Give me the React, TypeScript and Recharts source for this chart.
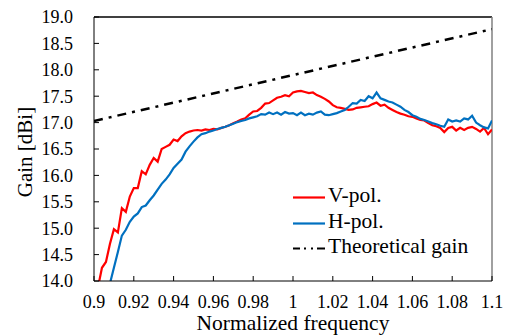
import React from 'react';
import { LineChart, Line, XAxis, YAxis, ReferenceLine } from 'recharts';

// frequency grid, step 0.002
const freq: number[] = Array.from({ length: 101 }, (_, i) => Math.round((0.9 + i * 0.002) * 1000) / 1000);

const vPol = [
  13.55, 13.88, 14.25, 14.36, 14.7, 14.98, 14.92, 15.38, 15.31, 15.6,
  15.76, 15.76, 16.08, 16.02, 16.2, 16.33, 16.26, 16.5, 16.54, 16.58,
  16.68, 16.65, 16.74, 16.8, 16.83, 16.85, 16.86, 16.85, 16.87, 16.86,
  16.88, 16.87, 16.9, 16.92, 16.95, 16.99, 17.02, 17.06, 17.08, 17.15,
  17.21, 17.22, 17.28, 17.36, 17.37, 17.42, 17.47, 17.49, 17.52, 17.5,
  17.57, 17.59, 17.6, 17.58, 17.56, 17.57, 17.52, 17.49, 17.45, 17.4,
  17.33, 17.29, 17.28, 17.26, 17.24, 17.25, 17.28, 17.29, 17.3, 17.31,
  17.35, 17.38, 17.32, 17.34, 17.28, 17.24, 17.2, 17.17, 17.15, 17.12,
  17.11, 17.08, 17.05, 17.04, 16.99, 16.95, 16.93, 16.9, 16.82, 16.9,
  16.92, 16.85, 16.9, 16.86, 16.9, 16.92, 16.88, 16.83, 16.9, 16.78,
  16.87,
];

const hPol = [
  12.9, 13.15, 13.4, 13.65, 13.95, 14.25, 14.55, 14.86, 14.97, 15.12,
  15.22, 15.28, 15.4, 15.43, 15.53, 15.62, 15.73, 15.84, 15.92, 16.02,
  16.14, 16.22, 16.3, 16.45, 16.55, 16.64, 16.72, 16.78, 16.8, 16.83,
  16.85, 16.88, 16.9, 16.92, 16.95, 16.98, 17.01, 17.03, 17.05, 17.08,
  17.1, 17.12, 17.16, 17.15, 17.19, 17.16, 17.19, 17.15, 17.2, 17.17,
  17.18, 17.14, 17.19, 17.14, 17.17, 17.15, 17.19, 17.21, 17.15, 17.14,
  17.16, 17.18, 17.21, 17.24, 17.3, 17.37, 17.36, 17.43, 17.41, 17.5,
  17.46, 17.57, 17.46, 17.43, 17.4, 17.38, 17.34, 17.3, 17.24, 17.2,
  17.14, 17.11, 17.07, 17.05, 17.02, 16.99, 16.97, 16.94, 16.92, 17.06,
  17.02, 17.04, 17.02, 17.08, 17.06, 17.13, 17.0, 16.95, 16.91, 16.89,
  17.04,
];

const theoryFreq = [0.9, 1.1];
const theoryGain = [17.03, 18.77];

const xTicks = [0.9, 0.92, 0.94, 0.96, 0.98, 1, 1.02, 1.04, 1.06, 1.08, 1.1];
const yTicks = [14, 14.5, 15, 15.5, 16, 16.5, 17, 17.5, 18, 18.5, 19];

const data = freq.map((f, i) => ({ f, v: vPol[i], h: hPol[i] }));
const theoryData = theoryFreq.map((f, i) => ({ f, t: theoryGain[i] }));

const FONT = "'Liberation Serif', serif";
const DASH = '9 6 3 6';

const legendItems = [
  { name: 'V-pol.', color: '#ff0000', dash: undefined },
  { name: 'H-pol.', color: '#0070c0', dash: undefined },
  { name: 'Theoretical gain', color: '#000000', dash: '7 4 2 5 2 4 8' },
];

function LegendBox() {
  return (
    <div style={{ position: 'absolute', left: 292, top: 183, fontFamily: FONT, fontSize: 21.5, color: '#000' }}>
      {legendItems.map(it => (
        <div key={it.name} style={{ position: 'relative', height: 25.5, lineHeight: '25.5px', whiteSpace: 'nowrap' }}>
          <svg width={34} height={26} style={{ position: 'absolute', left: 0, top: 0 }}>
            <line x1={1} x2={33} y1={14.5} y2={14.5} stroke={it.color} strokeWidth={2.2} strokeDasharray={it.dash} />
          </svg>
          <span style={{ position: 'absolute', left: 36, top: 0 }}>{it.name}</span>
        </div>
      ))}
    </div>
  );
}

export default function App() {
  const tickStyle = { fill: '#000', fontSize: 18, fontFamily: FONT };
  return (
    <div style={{ position: 'absolute', left: 0, top: 0, width: 508, height: 335, background: '#fff', fontFamily: FONT }}>
      <LineChart width={508} height={335} margin={{ top: 17, right: 16, left: 34, bottom: 24 }} style={{ fontFamily: FONT }}>
        <XAxis
          dataKey="f"
          type="number"
          domain={[0.9, 1.1]}
          ticks={xTicks}
          allowDataOverflow
          tickFormatter={(v: number) => String(Number(v.toFixed(2)))}
          tick={tickStyle}
          tickSize={-5}
          tickMargin={19}
          height={30}
          stroke="#000"
          interval={0}
        />
        <YAxis
          type="number"
          domain={[14, 19]}
          ticks={yTicks}
          allowDataOverflow
          tickFormatter={(v: number) => v.toFixed(1)}
          tick={tickStyle}
          tickSize={-5}
          tickMargin={26}
          width={60}
          stroke="#000"
          interval={0}
        />
        <ReferenceLine y={19} stroke="#000" strokeWidth={1.5} />
        <ReferenceLine x={1.1} stroke="#808080" strokeWidth={1.5} />
        <Line data={data} dataKey="v" type="linear" stroke="#ff0000" strokeWidth={2.2} dot={false} isAnimationActive={false} />
        <Line data={data} dataKey="h" type="linear" stroke="#0070c0" strokeWidth={2.2} dot={false} isAnimationActive={false} />
        <Line
          data={theoryData}
          dataKey="t"
          type="linear"
          stroke="#000"
          strokeWidth={2.5}
          strokeDasharray={DASH}
          dot={false}
          isAnimationActive={false}
        />
      </LineChart>
      <LegendBox />
      <div
        style={{
          position: 'absolute', left: 25, top: 152, transform: 'translate(-50%, -50%) rotate(-90deg)',
          fontSize: 21, whiteSpace: 'nowrap', color: '#000', fontFamily: FONT,
        }}
      >
        Gain [dBi]
      </div>
      <div
        style={{
          position: 'absolute', left: 293, top: 323, transform: 'translate(-50%, -50%)',
          fontSize: 21.5, whiteSpace: 'nowrap', color: '#000', fontFamily: FONT,
        }}
      >
        Normalized frequency
      </div>
    </div>
  );
}
